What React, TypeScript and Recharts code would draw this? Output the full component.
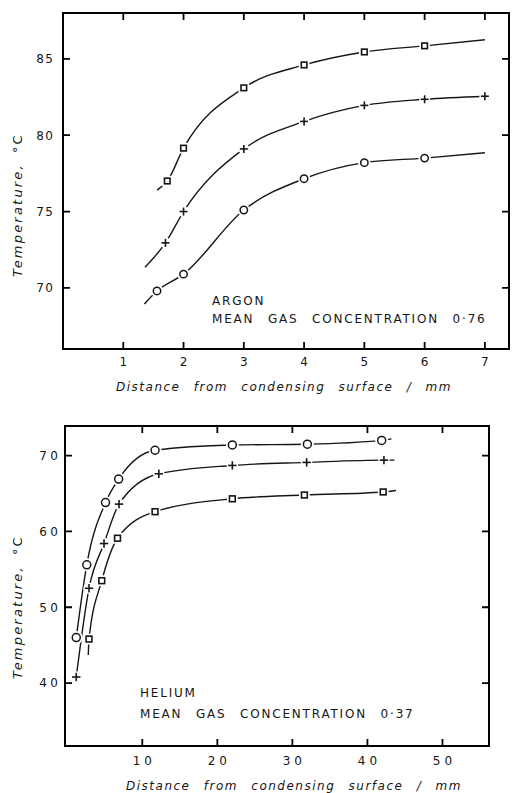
import { ComposedChart, Label, Line, Scatter, XAxis, YAxis } from 'recharts'

// Argon, mean gas concentration 0.76 (distance in mm, temperature in °C)
const argonSquares = [
  { x: 1.73, y: 77.0 },
  { x: 2.0, y: 79.15 },
  { x: 3.0, y: 83.1 },
  { x: 4.0, y: 84.6 },
  { x: 5.0, y: 85.45 },
  { x: 6.0, y: 85.85 },
]
const argonSquareEnds = [{ x: 1.56, y: 76.4 }, { x: 7.0, y: 86.25 }]

const argonPluses = [
  { x: 1.7, y: 72.95 },
  { x: 2.0, y: 75.0 },
  { x: 3.0, y: 79.1 },
  { x: 4.0, y: 80.9 },
  { x: 5.0, y: 81.95 },
  { x: 6.0, y: 82.35 },
  { x: 7.0, y: 82.55 },
]
const argonPlusEnds = [{ x: 1.36, y: 71.35 }, { x: 7.0, y: 82.55 }]

const argonCircles = [
  { x: 1.56, y: 69.8 },
  { x: 2.0, y: 70.9 },
  { x: 3.0, y: 75.1 },
  { x: 4.0, y: 77.15 },
  { x: 5.0, y: 78.2 },
  { x: 6.0, y: 78.5 },
]
const argonCircleEnds = [{ x: 1.35, y: 68.95 }, { x: 7.0, y: 78.85 }]

// Helium, mean gas concentration 0.37
const heliumCircles = [
  { x: 1.2, y: 46.0 },
  { x: 2.6, y: 55.6 },
  { x: 5.1, y: 63.8 },
  { x: 6.85, y: 66.9 },
  { x: 11.7, y: 70.7 },
  { x: 22.0, y: 71.4 },
  { x: 32.0, y: 71.5 },
  { x: 41.9, y: 72.0 },
]
const heliumCircleEnds = [{ x: 1.2, y: 46.0 }, { x: 43.2, y: 72.2 }]

const heliumPluses = [
  { x: 1.2, y: 40.8 },
  { x: 2.9, y: 52.5 },
  { x: 4.9, y: 58.4 },
  { x: 6.9, y: 63.6 },
  { x: 12.2, y: 67.6 },
  { x: 22.0, y: 68.7 },
  { x: 31.9, y: 69.1 },
  { x: 42.2, y: 69.4 },
]
const heliumPlusEnds = [{ x: 1.2, y: 40.8 }, { x: 43.6, y: 69.4 }]

const heliumSquares = [
  { x: 2.9, y: 45.8 },
  { x: 4.6, y: 53.5 },
  { x: 6.7, y: 59.1 },
  { x: 11.7, y: 62.6 },
  { x: 22.0, y: 64.3 },
  { x: 31.6, y: 64.8 },
  { x: 42.1, y: 65.2 },
]
const heliumSquareEnds = [{ x: 2.8, y: 43.7 }, { x: 43.8, y: 65.4 }]

const argonDomainX = [0, 7.4]
const argonDomainY = [66, 88]
const argonTicksX = [1, 2, 3, 4, 5, 6, 7]
const argonTicksY = [70, 75, 80, 85]
const heliumDomainX = [-0.3, 56.2]
const heliumDomainY = [31.7, 73.9]
const heliumTicksX = [10, 20, 30, 40, 50]
const heliumTicksY = [40, 50, 60, 70]

const ink = '#161616'
const frameInk = '#000000'
const font = "'DejaVu Sans', sans-serif"
const TICK = 7

const curve = (pts: { x: number; y: number }[], ends: { x: number; y: number }[]) => {
  const out = [...pts]
  if (ends[0].x < pts[0].x) out.unshift(ends[0])
  if (ends[1].x > pts[pts.length - 1].x) out.push(ends[1])
  return out
}

function SquareMark(p: any) {
  const { cx, cy, size } = p
  const s = size
  return (
    <g>
      <rect x={cx - s / 2 - 2.5} y={cy - s / 2 - 2.5} width={s + 5} height={s + 5} fill='#fff' />
      <rect x={cx - s / 2} y={cy - s / 2} width={s} height={s} fill='#fff' stroke={ink} strokeWidth={1.6} />
    </g>
  )
}

function CircleMark(p: any) {
  const { cx, cy, size } = p
  return (
    <g>
      <circle cx={cx} cy={cy} r={size + 2.5} fill='#fff' />
      <circle cx={cx} cy={cy} r={size} fill='#fff' stroke={ink} strokeWidth={1.5} />
    </g>
  )
}

function PlusMark(p: any) {
  const { cx, cy, size } = p
  return (
    <g stroke={ink} strokeWidth={1.6}>
      <circle cx={cx} cy={cy} r={size + 1.5} fill='#fff' stroke='none' />
      <line x1={cx - size} x2={cx + size} y1={cy} y2={cy} />
      <line x1={cx} x2={cx} y1={cy - size} y2={cy + size} />
    </g>
  )
}

function BottomTick(p: any) {
  const { x, y, payload, spacing } = p
  return (
    <text x={x + spacing / 2} y={y} dy='0.71em' textAnchor='middle' fontSize={12} fontFamily={font} letterSpacing={spacing} fill={ink}>
      {payload.value}
    </text>
  )
}

function LeftTick(p: any) {
  const { x, y, payload, spacing } = p
  return (
    <text x={x + spacing} y={y} dy='0.36em' textAnchor='end' fontSize={12} fontFamily={font} letterSpacing={spacing} fill={ink}>
      {payload.value}
    </text>
  )
}

// box around the plot with inward ticks on all four sides
function Frame({ box, dx, dy, tx, ty }: any) {
  const sx = (v: number) => box.x + ((v - dx[0]) / (dx[1] - dx[0])) * box.w
  const sy = (v: number) => box.y + box.h - ((v - dy[0]) / (dy[1] - dy[0])) * box.h
  const d = [
    ...tx.map((v: number) => `M${sx(v)},${box.y + box.h}v${-TICK}M${sx(v)},${box.y}v${TICK}`),
    ...ty.map((v: number) => `M${box.x},${sy(v)}h${TICK}M${box.x + box.w},${sy(v)}h${-TICK}`),
  ].join('')
  return (
    <g>
      <rect x={box.x} y={box.y} width={box.w} height={box.h} fill='none' stroke={frameInk} strokeWidth={2} />
      <path d={d} stroke={frameInk} strokeWidth={1.8} fill='none' />
    </g>
  )
}

const xTitle = (shift: number, down: number) => (props: any) => {
  const vb = props.viewBox
  return (
    <text
      x={vb.x + vb.width / 2 + shift}
      y={vb.y + down}
      dy='0.36em'
      textAnchor='middle'
      fontSize={12}
      fontStyle='italic'
      fontFamily={font}
      letterSpacing={1.5}
      wordSpacing={8}
      fill={ink}
    >
      Distance from condensing surface / mm
    </text>
  )
}

const yTitle = (shift: number) => (props: any) => {
  const vb = props.viewBox
  const cx = vb.x + 17
  const cy = vb.y + vb.height / 2 + shift
  return (
    <text
      x={cx}
      y={cy}
      dy='0.36em'
      transform={`rotate(-90, ${cx}, ${cy})`}
      textAnchor='middle'
      fontSize={13}
      fontStyle='italic'
      fontFamily={font}
      letterSpacing={2.2}
      fill={ink}
    >
      Temperature,
      <tspan dx={10} fontStyle='normal'>°C</tspan>
    </text>
  )
}

const noteStyle = { fontSize: 12, fontFamily: font, letterSpacing: 1.8, wordSpacing: 8, fill: ink }

export default function App() {
  const lineProps = { type: 'monotone' as const, dataKey: 'y', stroke: ink, strokeWidth: 1.4, dot: false, isAnimationActive: false }
  return (
    <div style={{ position: 'absolute', left: 0, top: 0, width: 512, height: 793, background: '#fff' }}>
      <ComposedChart width={512} height={395} margin={{ top: 13, right: 3, bottom: 0, left: 0 }}>
        <XAxis dataKey='x' type='number' domain={argonDomainX} ticks={argonTicksX} height={46} stroke={frameInk} axisLine={{ strokeWidth: 2 }} tickLine={false} tickSize={0} tickMargin={8} tick={<BottomTick spacing={1.5} />} allowDataOverflow>
          <Label content={xTitle(-2, 38)} />
        </XAxis>
        <YAxis dataKey='y' type='number' domain={argonDomainY} ticks={argonTicksY} width={63} stroke={frameInk} axisLine={{ strokeWidth: 2 }} tickLine={false} tickSize={0} tickMargin={10} tick={<LeftTick spacing={1.5} />} allowDataOverflow>
          <Label content={yTitle(24)} />
        </YAxis>
        <Frame box={{ x: 63, y: 13, w: 446, h: 336 }} dx={argonDomainX} dy={argonDomainY} tx={argonTicksX} ty={argonTicksY} />
        <Line {...lineProps} data={curve(argonSquares, argonSquareEnds)} />
        <Line {...lineProps} data={curve(argonPluses, argonPlusEnds)} />
        <Line {...lineProps} data={curve(argonCircles, argonCircleEnds)} />
        <Scatter data={argonSquares} dataKey='y' isAnimationActive={false} shape={(p: any) => <SquareMark {...p} size={5.6} />} />
        <Scatter data={argonPluses} dataKey='y' isAnimationActive={false} shape={(p: any) => <PlusMark {...p} size={4} />} />
        <Scatter data={argonCircles} dataKey='y' isAnimationActive={false} shape={(p: any) => <CircleMark {...p} size={3.7} />} />
        <text x={212} y={305} {...noteStyle}>ARGON</text>
        <text x={212} y={323} {...noteStyle}>MEAN GAS CONCENTRATION 0·76</text>
      </ComposedChart>

      <ComposedChart width={512} height={398} margin={{ top: 31, right: 23, bottom: 0, left: 0 }}>
        <XAxis dataKey='x' type='number' domain={heliumDomainX} ticks={heliumTicksX} height={47} stroke={frameInk} axisLine={{ strokeWidth: 2 }} tickLine={false} tickSize={0} tickMargin={10} tick={<BottomTick spacing={4} />} allowDataOverflow>
          <Label content={xTitle(17, 40)} />
        </XAxis>
        <YAxis dataKey='y' type='number' domain={heliumDomainY} ticks={heliumTicksY} width={65} stroke={frameInk} axisLine={{ strokeWidth: 2 }} tickLine={false} tickSize={0} tickMargin={7} tick={<LeftTick spacing={3.5} />} allowDataOverflow>
          <Label content={yTitle(21)} />
        </YAxis>
        <Frame box={{ x: 65, y: 31, w: 424, h: 320 }} dx={heliumDomainX} dy={heliumDomainY} tx={heliumTicksX} ty={heliumTicksY} />
        <Line {...lineProps} data={curve(heliumCircles, heliumCircleEnds)} />
        <Line {...lineProps} data={curve(heliumPluses, heliumPlusEnds)} />
        <Line {...lineProps} data={curve(heliumSquares, heliumSquareEnds)} />
        <Scatter data={heliumCircles} dataKey='y' isAnimationActive={false} shape={(p: any) => <CircleMark {...p} size={4} />} />
        <Scatter data={heliumPluses} dataKey='y' isAnimationActive={false} shape={(p: any) => <PlusMark {...p} size={4.2} />} />
        <Scatter data={heliumSquares} dataKey='y' isAnimationActive={false} shape={(p: any) => <SquareMark {...p} size={5.8} />} />
        <text x={140} y={302} {...noteStyle}>HELIUM</text>
        <text x={140} y={323} {...noteStyle}>MEAN GAS CONCENTRATION 0·37</text>
      </ComposedChart>
    </div>
  )
}
